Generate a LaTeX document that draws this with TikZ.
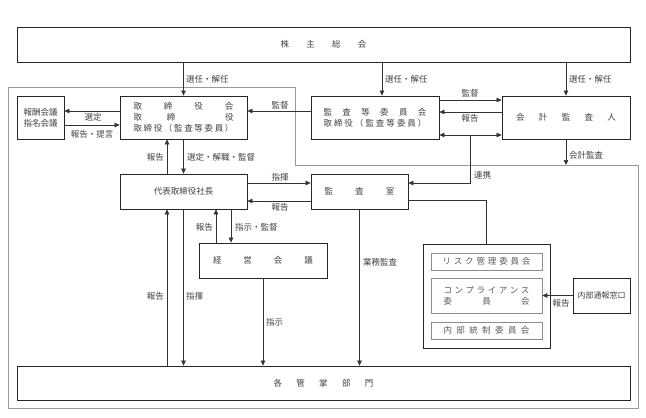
\documentclass[tikz,border=0pt]{standalone}
\usepackage{fontspec}
\setmainfont{Noto Sans CJK JP}
\usetikzlibrary{arrows.meta}
\newcommand{\spr}[2]{\makebox[#1pt]{#2}}
\begin{document}
\begin{tikzpicture}[x=1pt,y=-1pt,
  kasten/.style={draw=black!85,line width=0.8pt,inner sep=0pt,align=center,
    font=\fontsize{8.5}{11}\selectfont,text=black!75},
  innen/.style={kasten,draw=black!45,line width=0.6pt,text=black!65},
  pfeil/.style={draw=black!80,line width=0.6pt,-{Triangle[length=5pt,width=4.5pt]}},
  doppelpfeil/.style={pfeil,{Triangle[length=5pt,width=4.5pt]}-{Triangle[length=5pt,width=4.5pt]}},
  linie/.style={draw=black!80,line width=0.6pt},
  txt/.style={font=\fontsize{8.5}{10}\selectfont,text=black!75,inner sep=1pt}]
\useasboundingbox (0,0) rectangle (646,418);
%%Hilfslinien
\coordinate (l167) at (167,0);
\coordinate (l216) at (216,0);
\coordinate (l231) at (231,0);
\coordinate (l382) at (382,0);
\coordinate (l470) at (470,0);
\coordinate (y100) at (0,100);
\coordinate (y111) at (0,111);
\coordinate (y112) at (0,112);
\coordinate (y125) at (0,125);
\coordinate (y135) at (0,135);
\coordinate (y165) at (0,165);
\coordinate (y183) at (0,183);
\coordinate (y200) at (0,200);
\coordinate (y201) at (0,201);
%%Rahmen
\draw[black!40,line width=0.6pt] (8,87) -- (295,87) -- (295,165) -- (638,165) -- (638,408) -- (8,408) -- cycle;
%%Kaesten oben
\node[kasten,minimum width=613pt,minimum height=35pt] (gv) at (323.5,44.5)
  {\spr{86}{株\hfill 主\hfill 総\hfill 会}};
\node[kasten,minimum width=47pt,minimum height=43pt] (ho) at (40.5,117.5)
  {報酬会議\\指名会議};
\node[kasten,minimum width=127pt,minimum height=43pt] (tr) at (183.5,117.5)
  {\spr{100}{取\hfill 締\hfill 役\hfill 会}\\
   \spr{100}{取\hfill 締\hfill\hfill 役}\\
   \spr{100}{取\hfill 締\hfill 役\hfill （\hfill 監\hfill 査\hfill 等\hfill 委\hfill 員\hfill ）}};
\node[kasten,minimum width=128pt,minimum height=43pt] (ka) at (375,117.5)
  {\spr{103}{監\hfill 査\hfill 等\hfill 委\hfill 員\hfill 会}\\
   \spr{103}{取\hfill 締\hfill 役\hfill （\hfill 監\hfill 査\hfill 等\hfill 委\hfill 員\hfill ）}};
\node[kasten,minimum width=128pt,minimum height=43pt] (kk) at (566,117.5)
  {\spr{100}{会\hfill 計\hfill 監\hfill 査\hfill 人}};
%%Kaesten Mitte
\node[kasten,minimum width=127pt,minimum height=35pt] (dt) at (183.5,191.5)
  {代表取締役社長};
\node[kasten,minimum width=97pt,minimum height=35pt] (ks) at (359.5,191.5)
  {\spr{70}{監\hfill 査\hfill 室}};
\node[kasten,minimum width=128pt,minimum height=35pt] (kg) at (263,260.5)
  {\spr{100}{経\hfill 営\hfill 会\hfill 議}};
%%Ausschuesse
\node[kasten,minimum width=127pt,minimum height=104pt] (io) at (486.5,296) {};
\node[innen,minimum width=111pt,minimum height=17pt] (ri) at (486.5,261.5)
  {\spr{88}{リ\hfill ス\hfill ク\hfill 管\hfill 理\hfill 委\hfill 員\hfill 会}};
\node[innen,minimum width=111pt,minimum height=35pt] (co) at (486.5,295.5)
  {\spr{86}{コ\hfill ン\hfill プ\hfill ラ\hfill イ\hfill ア\hfill ン\hfill ス}\\
   \spr{86}{委\hfill 員\hfill 会}};
\node[innen,minimum width=111pt,minimum height=17pt] (na) at (486.5,330.5)
  {\spr{86}{内\hfill 部\hfill 統\hfill 制\hfill 委\hfill 員\hfill 会}};
\node[kasten,minimum width=57pt,minimum height=35pt,font=\fontsize{8}{10}\selectfont] (ts) at (601.5,295.5)
  {内部通報窓口};
%%Kasten unten
\node[kasten,minimum width=613pt,minimum height=34pt] (bu) at (323.5,383)
  {\spr{100}{各\hfill 管\hfill 掌\hfill 部\hfill 門}};
%%Pfeile
\draw[pfeil] (gv.south -| tr) -- (tr.north);
\draw[pfeil] (gv.south -| l382) -- (ka.north -| l382);
\draw[pfeil] (gv.south -| kk) -- (kk.north);
\draw[pfeil] (tr.west |- y111) -- (ho.east |- y111);
\draw[pfeil] (ho.east |- y125) -- (tr.west |- y125);
\draw[pfeil] (ka.west |- y111) -- (tr.east |- y111);
\draw[pfeil] (ka.east |- y100) -- (kk.west |- y100);
\draw[pfeil] (kk.west |- y112) -- (ka.east |- y112);
\draw[doppelpfeil] (ka.east |- y135) -- (kk.west |- y135);
\draw[pfeil] (l470 |- y135) -- (l470 |- y183) -- (ks.east |- y183);
\draw[pfeil] (kk.south) -- (kk.south |- y165);
\draw[pfeil] (dt.north -| l167) -- (tr.south -| l167);
\draw[pfeil] (tr.south) -- (dt.north);
\draw[pfeil] (dt.east |- y183) -- (ks.west |- y183);
\draw[pfeil] (ks.west |- y201) -- (dt.east |- y201);
\draw[pfeil] (kg.north -| l216) -- (dt.south -| l216);
\draw[pfeil] (dt.south -| l231) -- (kg.north -| l231);
\draw[pfeil] (bu.north -| l167) -- (dt.south -| l167);
\draw[pfeil] (dt.south) -- (bu.north -| dt);
\draw[pfeil] (kg.south) -- (bu.north -| kg);
\draw[pfeil] (ks.south) -- (bu.north -| ks);
\draw[linie] (ks.east |- y200) -- (io.north |- y200) -- (io.north);
\draw[pfeil] (ts.west) -- (co.east);
%%Beschriftungen
\node[txt,anchor=west] (t1) at (185,79) {選任・解任};
\node[txt,anchor=west] (t2) at (384,79) {選任・解任};
\node[txt,anchor=west] (t3) at (568,79) {選任・解任};
\node[txt] (t4) at (93,117) {選定};
\node[txt] (t5) at (92,134) {報告・提言};
\node[txt] (t6) at (280,105) {監督};
\node[txt] (t7) at (470,93) {監督};
\node[txt] (t8) at (470,118) {報告};
\node[txt,anchor=east] (t9) at (165,157) {報告};
\node[txt,anchor=west] (t10) at (186,157) {選定・解職・監督};
\node[txt] (t11) at (280,177) {指揮};
\node[txt] (t12) at (280,207) {報告};
\node[txt,anchor=east] (t13) at (214,227) {報告};
\node[txt,anchor=west] (t14) at (234,227) {指示・監督};
\node[txt,anchor=east] (t15) at (165,296) {報告};
\node[txt,anchor=west] (t16) at (185,296) {指揮};
\node[txt,anchor=west] (t17) at (265,322) {指示};
\node[txt,anchor=west] (t18) at (362,262) {業務監査};
\node[txt,anchor=west] (t19) at (473,175) {連携};
\node[txt,anchor=west] (t20) at (568,155) {会計監査};
\node[txt] (t21) at (561,303) {報告};
\end{tikzpicture}
\end{document}
